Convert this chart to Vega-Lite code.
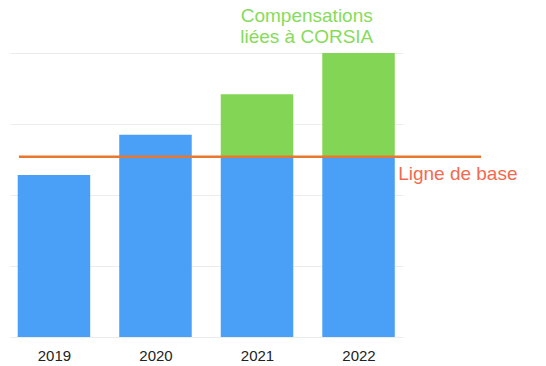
{
  "$schema": "https://vega.github.io/schema/vega-lite/v6.json",
  "autosize": {"type": "none"},
  "width": 393,
  "height": 284,
  "padding": {"left": 10, "top": 53, "right": 143, "bottom": 29},
  "background": "white",
  "config": {"view": {"stroke": null}, "font": "Liberation Sans"},
  "datasets": {
    "barres": [
      {"annee": 2019, "categorie": "Émissions", "valeur": 228},
      {"annee": 2020, "categorie": "Émissions", "valeur": 285},
      {"annee": 2021, "categorie": "Émissions", "valeur": 254},
      {"annee": 2021, "categorie": "Compensations", "valeur": 88},
      {"annee": 2022, "categorie": "Émissions", "valeur": 254},
      {"annee": 2022, "categorie": "Compensations", "valeur": 146}
    ],
    "base": [{"debut": 2018.655, "fin": 2023.207, "valeur": 254}],
    "notes": [
      {"annee": 2021.49, "valeur": 400, "texte": "Compensations\nliées à CORSIA", "type": "comp"},
      {"annee": 2022.39, "valeur": 254, "texte": "Ligne de base", "type": "base"}
    ]
  },
  "layer": [
    {
      "data": {"name": "barres"},
      "mark": {"type": "bar", "width": 72.5},
      "encoding": {
        "x": {
          "field": "annee", "type": "quantitative",
          "scale": {"domain": [2018.567, 2022.438], "nice": false, "zero": false, "padding": 0},
          "axis": {
            "values": [2019, 2020, 2021, 2022], "format": "d", "title": null,
            "domain": false, "ticks": false, "grid": false,
            "labelFontSize": 15, "labelColor": "#222222", "labelPadding": 11,
            "labelFont": "Liberation Sans"
          }
        },
        "y": {
          "field": "valeur", "type": "quantitative", "stack": "zero",
          "scale": {"domain": [0, 400], "nice": false},
          "axis": {
            "values": [0, 100, 200, 300, 400], "title": null, "labels": false,
            "ticks": false, "domain": false, "grid": true, "gridColor": "#ececec", "gridWidth": 1
          }
        },
        "color": {
          "field": "categorie", "type": "nominal",
          "scale": {"domain": ["Émissions", "Compensations"], "range": ["#4A9FF7", "#83D655"]},
          "legend": null
        },
        "order": {"field": "categorie", "sort": "descending"}
      }
    },
    {
      "data": {"name": "base"},
      "mark": {"type": "rule", "color": "#E8772F", "strokeWidth": 2.5},
      "encoding": {
        "x": {"field": "debut", "type": "quantitative"},
        "x2": {"field": "fin"},
        "y": {"field": "valeur", "type": "quantitative"}
      }
    },
    {
      "data": {"name": "notes"},
      "transform": [{"filter": "datum.type === 'comp'"}],
      "mark": {"type": "text", "align": "center", "baseline": "alphabetic", "dy": -31,
               "fontSize": 19, "lineBreak": "\n", "lineHeight": 21, "color": "#86DB5A", "font": "Liberation Sans"},
      "encoding": {
        "x": {"field": "annee", "type": "quantitative"},
        "y": {"field": "valeur", "type": "quantitative"},
        "text": {"field": "texte"}
      }
    },
    {
      "data": {"name": "notes"},
      "transform": [{"filter": "datum.type === 'base'"}],
      "mark": {"type": "text", "align": "left", "baseline": "alphabetic", "dy": 23,
               "fontSize": 19, "color": "#F26A50", "font": "Liberation Sans"},
      "encoding": {
        "x": {"field": "annee", "type": "quantitative"},
        "y": {"field": "valeur", "type": "quantitative"},
        "text": {"field": "texte"}
      }
    }
  ]
}
